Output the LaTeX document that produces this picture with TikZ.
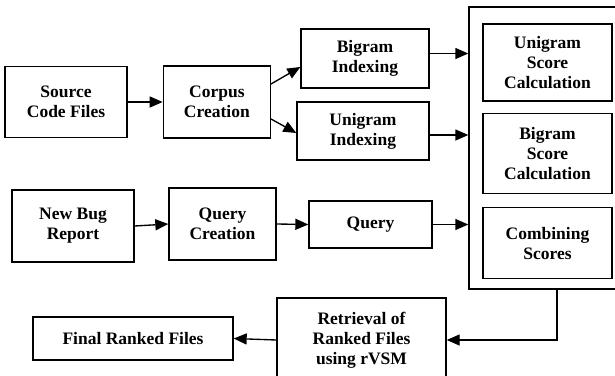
\documentclass[tikz,border=0pt]{standalone}
\usepackage{fontspec}
\setmainfont{Liberation Serif}
\usetikzlibrary{positioning}
\usetikzlibrary{arrows.meta}

\begin{document}
\begin{tikzpicture}[x=1pt, y=-1pt, line width=1.35pt,
  common/.style={draw, fill=white, inner sep=0pt, align=center, font=\fontsize{17.5}{20}\selectfont\bfseries},
  flecha/.style={-{Triangle[length=13pt,width=11pt]}}]
\useasboundingbox (0,0) rectangle (615,375);

\node (src) [common, minimum width=122pt, minimum height=71pt] at (66, 102) {Source\\Code Files};
\node (corpus) [common, minimum width=107pt, minimum height=72pt, right=35pt of src] {Corpus\\Creation};
\node (bigidx) [common, minimum width=128pt, minimum height=59pt] at (365, 58.5) {Bigram\\Indexing};
\node (uniidx) [common, minimum width=132pt, minimum height=58pt] at (363, 131) {Unigram\\Indexing};

% caja de puntuacion
\node (outer) [common, minimum width=150pt, minimum height=282pt] at (544, 148) {};
\node (unisc) [common, minimum width=129pt, minimum height=77pt] at (547.5, 62.5) {Unigram\\Score\\Calculation};
\node (bisc) [common, minimum width=129pt, minimum height=80pt, below=11pt of unisc] {Bigram\\Score\\Calculation};
\node (comb) [common, minimum width=129pt, minimum height=71pt, below=13pt of bisc] {Combining\\Scores};

\node (bug) [common, minimum width=122pt, minimum height=72pt] at (73, 226) {New Bug\\Report};
\node (qcre) [common, minimum width=107pt, minimum height=72pt] at (222.5, 224) {Query\\Creation};
\node (query) [common, minimum width=123pt, minimum height=47pt] at (370.5, 224.5) {Query};

\node (retr) [common, minimum width=169pt, minimum height=84pt] at (361.5, 340) {Retrieval of\\Ranked Files\\using rVSM};
\node (final) [common, minimum width=200pt, minimum height=43pt] at (133, 338.5) {Final Ranked Files};

% arriba
\draw [flecha](node cs:name=src, anchor=east) -- (node cs:name=corpus, anchor=west);
\draw [flecha]([yshift=18pt]corpus.east) -- ([yshift=-8.5pt]bigidx.west);
\draw [flecha]([yshift=-17pt]corpus.east) -- ([yshift=-2pt]uniidx.west);
\draw [flecha]([yshift=5pt]bigidx.east) -- ([yshift=5pt]bigidx.east -| outer.west);
\draw [flecha]([yshift=-4pt]uniidx.east) -- ([yshift=-4pt]uniidx.east -| outer.west);

% medio
\draw [flecha](node cs:name=bug, anchor=east) -- (node cs:name=qcre, anchor=west);
\draw [flecha](node cs:name=qcre, anchor=east) -- (node cs:name=query, anchor=west);
\draw [flecha](node cs:name=query, anchor=east) -- (query.east -| outer.west);

% abajo
\draw [flecha]([xshift=13pt]outer.south) |- (node cs:name=retr, anchor=east);
\draw [flecha](node cs:name=retr, anchor=west) -- (node cs:name=final, anchor=east);
\end{tikzpicture}
\end{document}
